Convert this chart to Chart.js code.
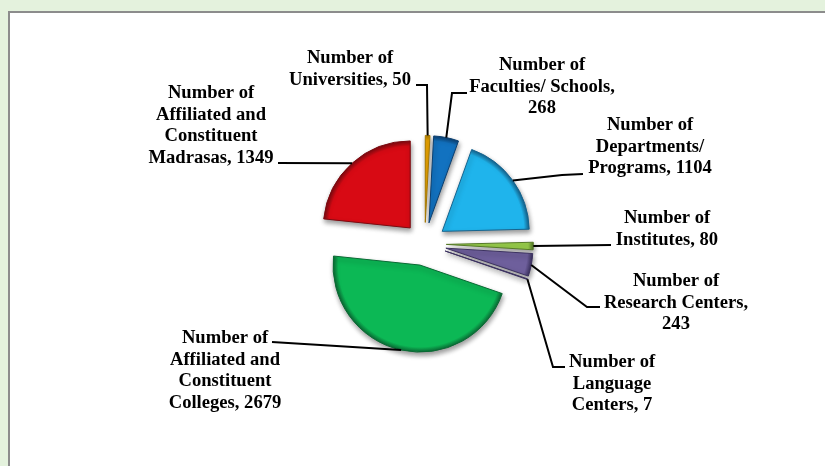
<!DOCTYPE html>
<html>
<head>
<meta charset="utf-8">
<script src="https://cdn.jsdelivr.net/npm/chart.js@4"></script>
<style>
  html, body { margin: 0; padding: 0; background: #e4f2dd; overflow: hidden; }
  #box { position: absolute; left: 8px; top: 11px; width: 825px; height: 466px; background: #fff; border: 2px solid #8c8c8c; box-sizing: border-box; }
  #chart { position: absolute; left: 0; top: 0; }
</style>
</head>
<body>
<div id="box"></div>
<canvas id="chart" width="825" height="466"></canvas>
<script>
const categories = [
  "Number of\nUniversities,",
  "Number of\nFaculties/ Schools,",
  "Number of\nDepartments/\nPrograms,",
  "Number of\nInstitutes,",
  "Number of\nResearch Centers,",
  "Number of\nLanguage\nCenters,",
  "Number of\nAffiliated and\nConstituent\nColleges,",
  "Number of\nAffiliated and\nConstituent\nMadrasas,"
];
const values = [50, 268, 1104, 80, 243, 7, 2679, 1349];
const sliceColors = ["#f0a800", "#1272c0", "#1fb4ec", "#9ad04c", "#6e5f9c", "#55507c", "#0cb855", "#d80a14"];
const edgeColors = ["#a87a00", "#0b3f70", "#15648f", "#567a28", "#3c3260", "#3c3260", "#0a6a34", "#7c0a10"];

// value goes on its own line for these two, the rest share the last line
const valueOnOwnLine = [1, 4];

// label centre x, first line y, then the elbow of the leader and where it stops
const callouts = [
  { x: 350, y: 58, path: [[427, 85], [416, 85]] },
  { x: 542, y: 65, path: [[452, 93], [467, 93]] },
  { x: 650, y: 125, path: [[562, 175], [583, 174]] },
  { x: 667, y: 218, path: [[611, 245]] },
  { x: 676, y: 281, path: [[587, 307], [600, 307]] },
  { x: 612, y: 362, path: [[553, 367], [565, 367]] },
  { x: 225, y: 338, path: [[272, 342]] },
  { x: 211, y: 93, path: [[278, 163]] }
];

const pieRadius = 87;
const explode = 21.6;

// the built in arc offset also resizes and narrows thin slices, so move them here instead
class ExplodedPie extends Chart.PieController {
  draw() {
    const ctx = this.chart.ctx;
    this.getMeta().data.forEach(arc => {
      const mid = (arc.startAngle + arc.endAngle) / 2;
      ctx.save();
      ctx.translate(Math.cos(mid) * explode, Math.sin(mid) * explode);
      arc.draw(ctx, this.chart.chartArea);
      ctx.restore();
    });
  }
}
ExplodedPie.id = "explodedPie";
ExplodedPie.defaults = Chart.PieController.defaults;
Chart.register(ExplodedPie);

function sliceGradient(context) {
  const chart = context.chart;
  const area = chart.chartArea;
  const base = sliceColors[context.dataIndex];
  if (!area) return base;
  const cx = (area.left + area.right) / 2;
  const cy = (area.top + area.bottom) / 2;
  const g = chart.ctx.createRadialGradient(cx, cy, 0, cx, cy, pieRadius);
  g.addColorStop(0, base);
  g.addColorStop(0.94, base);
  g.addColorStop(1, edgeColors[context.dataIndex]);
  return g;
}

const sliceShadow = {
  id: "sliceShadow",
  beforeDatasetsDraw(chart) {
    const ctx = chart.ctx;
    ctx.save();
    ctx.shadowColor = "rgba(0,0,0,0.4)";
    ctx.shadowBlur = 5;
    ctx.shadowOffsetX = 1;
    ctx.shadowOffsetY = 3;
  },
  afterDatasetsDraw(chart) {
    chart.ctx.restore();
  }
};

const calloutLabels = {
  id: "calloutLabels",
  afterDraw(chart) {
    const ctx = chart.ctx;
    const arcs = chart.getDatasetMeta(0).data;
    ctx.save();
    ctx.strokeStyle = "#000";
    ctx.lineWidth = 2;
    ctx.fillStyle = "#000";
    ctx.font = "bold 18.6px 'Liberation Serif'";
    ctx.textAlign = "center";
    ctx.textBaseline = "middle";
    arcs.forEach((arc, i) => {
      const mid = (arc.startAngle + arc.endAngle) / 2;
      const r = pieRadius + explode;
      ctx.beginPath();
      ctx.moveTo(arc.x + Math.cos(mid) * r, arc.y + Math.sin(mid) * r);
      callouts[i].path.forEach(p => ctx.lineTo(p[0], p[1]));
      ctx.stroke();

      let lines = categories[i].split("\n");
      if (valueOnOwnLine.includes(i)) lines.push(String(values[i]));
      else lines[lines.length - 1] += " " + values[i];
      lines.forEach((line, k) => ctx.fillText(line, callouts[i].x, callouts[i].y + k * 21.7));
    });
    ctx.restore();
  }
};

new Chart(document.getElementById("chart").getContext("2d"), {
  type: "explodedPie",
  data: {
    labels: categories.map(c => c.replace(/\n/g, " ")),
    datasets: [{
      data: values,
      backgroundColor: sliceGradient,
      borderColor: edgeColors,
      borderWidth: 1,
      radius: pieRadius
    }]
  },
  options: {
    responsive: false,
    animation: false,
    layout: { padding: { left: 24.4, right: 0, top: 22, bottom: 0 } },
    plugins: {
      legend: { display: false },
      tooltip: { enabled: false }
    }
  },
  plugins: [sliceShadow, calloutLabels]
});
</script>
</body>
</html>
